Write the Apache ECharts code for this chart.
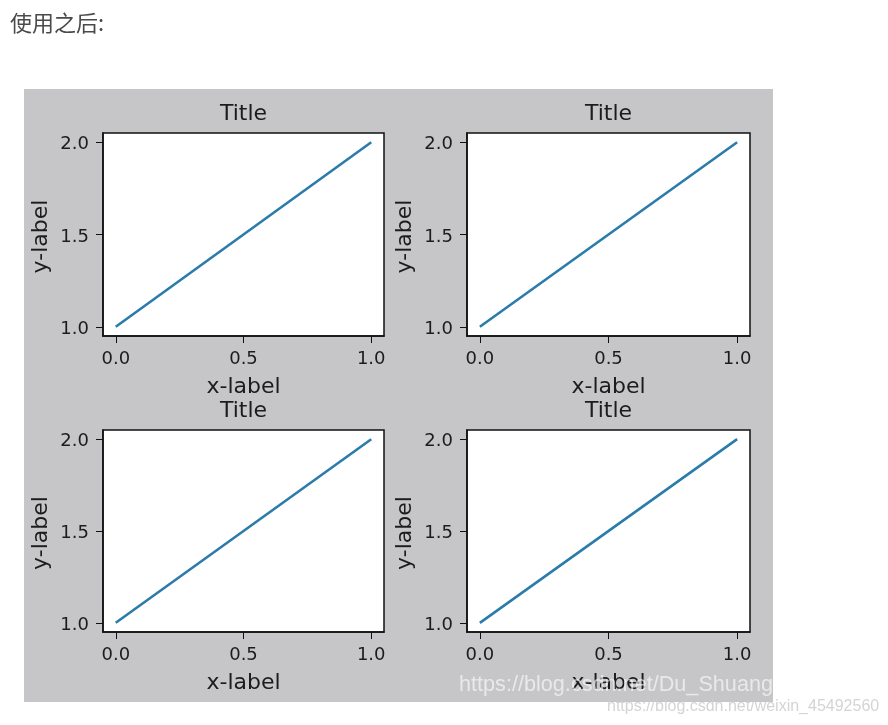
<!DOCTYPE html>
<html>
<head>
<meta charset="utf-8">
<title>使用之后</title>
<style>
  html, body { margin: 0; padding: 0; background: #fff; }
  #chart { width: 888px; height: 725px; }
</style>
<script src="https://cdn.jsdelivr.net/npm/echarts@6/dist/echarts.min.js"></script>
</head>
<body>
<div id="chart"></div>
<script>
"use strict";

const lineX = [0, 1];
const lineY = [1, 2];
const xTicks = [0, 0.5, 1];
const yTicks = [1, 1.5, 2];
const titleText = "Title";
const xLabel = "x-label";
const yLabel = "y-label";
const heading = "使用之后:";
const markOne = "https://blog.csdn.net/Du_Shuang";
const markTwo = "https://blog.csdn.net/weixin_45492560";

const FONT = "DejaVu Sans";
const INK = "#1c1c1c";

// 四个子图的像素位置
const panels = [
  { left: 103, top: 133, width: 281, height: 203 },
  { left: 467, top: 133, width: 283, height: 203 },
  { left: 103, top: 430, width: 281, height: 202 },
  { left: 467, top: 430, width: 283, height: 202 }
];

const fmt = v => v.toFixed(1);

function axisBase(ticks, min, max) {
  return {
    type: "value", min: min, max: max,
    splitLine: { show: false },
    axisLine: { show: true, onZero: false, lineStyle: { color: "#111", width: 1.5 } },
    axisTick: { show: true, length: 7, customValues: ticks, lineStyle: { color: "#111", width: 1 } },
    axisLabel: {
      customValues: ticks, formatter: fmt, showMinLabel: true, showMaxLabel: true,
      margin: 14, fontFamily: FONT, fontSize: 18, color: INK
    },
    nameLocation: "middle",
    nameTextStyle: { fontFamily: FONT, fontSize: 22, color: INK }
  };
}

const chart = echarts.init(document.getElementById("chart"));
chart.setOption({
  animation: false,
  backgroundColor: "#fff",
  graphic: [
    { type: "rect", z: -10, shape: { x: 24, y: 89, width: 749, height: 613 }, style: { fill: "#c6c5c7" } },
    { type: "text", x: 10, y: 12, style: { text: heading, font: "22px 'Noto Sans CJK SC'", fill: "#4a4a4a" } },
    { type: "text", z: 100, x: 459, y: 674, style: { text: markOne, font: "21.65px 'Liberation Sans'", fill: "rgba(255,255,255,0.62)" } },
    { type: "text", z: 100, x: 607, y: 699, style: { text: markTwo, font: "16px 'Liberation Sans'", fill: "rgba(205,205,205,0.85)" } }
  ],
  title: panels.map(p => ({
    text: titleText,
    left: p.left + p.width / 2,
    top: p.top - 30,
    padding: 0,
    textAlign: "center",
    textStyle: { fontFamily: FONT, fontSize: 22, fontWeight: "normal", color: INK }
  })),
  grid: panels.map(p => ({
    left: p.left, top: p.top, width: p.width, height: p.height,
    show: true, backgroundColor: "#fff", borderColor: "#111", borderWidth: 1.5
  })),
  xAxis: panels.map((p, i) => {
    const ax = axisBase(xTicks, -0.05, 1.05);
    ax.gridIndex = i;
    ax.name = xLabel;
    ax.nameGap = 40;
    return ax;
  }),
  yAxis: panels.map((p, i) => {
    const ax = axisBase(yTicks, 0.95, 2.05);
    ax.gridIndex = i;
    ax.name = yLabel;
    ax.nameGap = 51;
    // 数字略往下移，和刻度线对齐
    ax.axisLabel.formatter = v => "{n|" + fmt(v) + "}";
    ax.axisLabel.rich = { n: { fontFamily: FONT, fontSize: 18, color: INK, padding: [5, 0, 0, 0] } };
    ax.nameTextStyle.padding = [0, 4, 0, 0];
    return ax;
  }),
  series: panels.map((p, i) => ({
    type: "line",
    xAxisIndex: i, yAxisIndex: i,
    data: lineX.map((x, k) => [x, lineY[k]]),
    symbol: "none",
    silent: true,
    lineStyle: { color: "#2b7bab", width: 2.6 }
  }))
});
</script>
</body>
</html>
